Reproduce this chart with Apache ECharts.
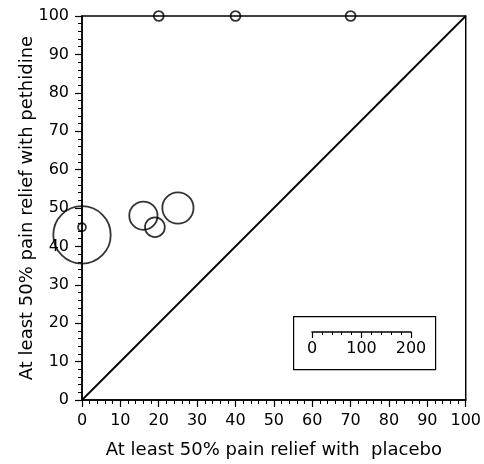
<!DOCTYPE html>
<html>
<head>
<meta charset="utf-8">
<script src="https://cdn.jsdelivr.net/npm/echarts@6/dist/echarts.min.js"></script>
<style>html,body{margin:0;padding:0;background:#fff}#c{width:484px;height:464px}</style>
</head>
<body>
<div id="c"></div>
<script>
// Data
var placebo   = [0, 16, 19, 25, 0, 20, 40, 70];
var pethidine = [43, 48, 45, 50, 45, 100, 100, 100];
var trialSize = [116, 57, 40, 63, 16, 20, 20, 20];
var diagonalX = [0, 100];
var diagonalY = [0, 100];
var axisTicks = [0, 10, 20, 30, 40, 50, 60, 70, 80, 90, 100];
var scaleTicks = [0, 100, 200];
var xTitle = 'At least 50% pain relief with  placebo';
var yTitle = 'At least 50% pain relief with pethidine';

var FONT = '"DejaVu Sans", "Liberation Sans", Arial, sans-serif';
var scaleWidthPx = 99;
var pxPerUnit = scaleWidthPx / scaleTicks[scaleTicks.length - 1];

var points = placebo.map(function (x, i) { return [x, pethidine[i], trialSize[i]]; });
var diag = diagonalX.map(function (x, i) { return [x, diagonalY[i]]; });

var chart = echarts.init(document.getElementById('c'), null, {renderer: 'canvas'});
chart.setOption({
  animation: false,
  backgroundColor: '#fff',
  grid: [
    {left: 82, right: 17, top: 16, bottom: 62, show: true, borderColor: '#000', borderWidth: 1.5, backgroundColor: 'transparent'},
    {left: 312, width: scaleWidthPx, top: 312, height: 20}
  ],
  xAxis: [
    {
      type: 'value', gridIndex: 0, min: axisTicks[0], max: axisTicks[axisTicks.length - 1], interval: 10,
      name: xTitle, nameLocation: 'middle', nameGap: 41, nameMoveOverlap: false,
      nameTextStyle: {color: '#000', fontSize: 18, fontFamily: FONT},
      axisLine: {show: true, lineStyle: {color: '#000', width: 1.5}},
      axisTick: {show: true, length: 7, lineStyle: {color: '#000', width: 1.2}},
      minorTick: {show: true, splitNumber: 5, length: 4, lineStyle: {color: '#000', width: 1}},
      splitLine: {show: false},
      axisLabel: {color: '#000', fontSize: 16, fontFamily: FONT, margin: 13}
    },
    {
      type: 'value', gridIndex: 1, min: scaleTicks[0], max: scaleTicks[scaleTicks.length - 1], interval: 100,
      axisLine: {show: true, lineStyle: {color: '#000', width: 1.5}},
      axisTick: {show: true, length: 6, lineStyle: {color: '#000', width: 1.2}},
      minorTick: {show: true, splitNumber: 5, length: 3, lineStyle: {color: '#000', width: 1}},
      splitLine: {show: false},
      axisLabel: {color: '#000', fontSize: 16, fontFamily: FONT, margin: 9}
    }
  ],
  yAxis: [
    {
      type: 'value', gridIndex: 0, min: axisTicks[0], max: axisTicks[axisTicks.length - 1], interval: 10,
      name: yTitle, nameLocation: 'middle', nameGap: 46, nameMoveOverlap: false,
      nameTextStyle: {color: '#000', fontSize: 18, fontFamily: FONT},
      axisLine: {show: true, lineStyle: {color: '#000', width: 1.5}},
      axisTick: {show: true, length: 7, lineStyle: {color: '#000', width: 1.2}},
      minorTick: {show: true, splitNumber: 5, length: 4, lineStyle: {color: '#000', width: 1}},
      splitLine: {show: false},
      axisLabel: {color: '#000', fontSize: 16, fontFamily: FONT, margin: 13}
    },
    {type: 'value', gridIndex: 1, show: false, min: 0, max: 1}
  ],
  graphic: [
    {type: 'rect', left: 293, top: 316, shape: {width: 142, height: 53},
     style: {fill: 'transparent', stroke: '#000', lineWidth: 1.2}}
  ],
  series: [
    {
      type: 'line', xAxisIndex: 0, yAxisIndex: 0, data: diag, showSymbol: false, symbol: 'none',
      lineStyle: {color: '#000', width: 1.8}, silent: true
    },
    {
      type: 'scatter', xAxisIndex: 0, yAxisIndex: 0, data: points, clip: false,
      symbol: 'circle',
      symbolSize: function (v) { return v[2] * pxPerUnit; },
      itemStyle: {color: 'transparent', borderColor: '#000', borderWidth: 1.8}
    }
  ]
});
</script>
</body>
</html>
